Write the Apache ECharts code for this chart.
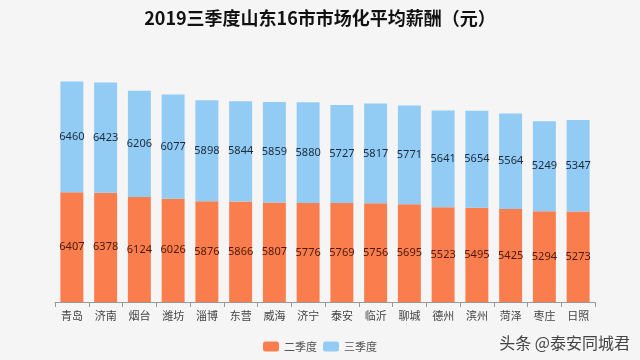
<!DOCTYPE html>
<html><head><meta charset="utf-8">
<script src="https://cdn.jsdelivr.net/npm/echarts@6/dist/echarts.min.js"></script>
<style>html,body{margin:0;padding:0;background:#f5f5f5}#c{width:640px;height:360px}</style>
</head><body><div id="c"></div>
<script>
const categories = ['青岛','济南','烟台','潍坊','淄博','东营','威海','济宁','泰安','临沂','聊城','德州','滨州','菏泽','枣庄','日照'];
const q2 = [6407,6378,6124,6026,5876,5866,5807,5776,5769,5756,5695,5523,5495,5425,5294,5273];
const q3 = [6460,6423,6206,6077,5898,5844,5859,5880,5727,5817,5771,5641,5654,5564,5249,5347];
const seriesNames = ['二季度','三季度'];

const chart = echarts.init(document.getElementById('c'));
chart.setOption({
  backgroundColor: '#f5f5f5',
  animation: false,
  title: {
    text: '2019三季度山东16市市场化平均薪酬（元）',
    left: 'center', top: 4,
    textStyle: {fontFamily: 'Noto Sans CJK SC', fontSize: 18, fontWeight: 'bold', color: '#111'}
  },
  legend: {
    bottom: 3, left: 'center',
    itemWidth: 16, itemHeight: 10, itemGap: 6,
    textStyle: {fontFamily: 'Noto Sans CJK SC', fontSize: 11, color: '#555'},
    data: seriesNames
  },
  grid: {left: 55, right: 45, top: 62, bottom: 58},
  xAxis: {
    type: 'category', data: categories,
    axisLine: {lineStyle: {color: '#999'}},
    axisTick: {show: true, lineStyle: {color: '#999'}},
    axisLabel: {fontFamily: 'Noto Sans CJK SC', fontSize: 11, color: '#444', margin: 8, interval: 0}
  },
  yAxis: {type: 'value', min: 0, max: 14000, show: false, splitLine: {show: false}},
  series: [
    {name: seriesNames[0], type: 'bar', stack: 't', data: q2, barWidth: '68%',
     itemStyle: {color: '#fa7e4d'},
     label: {show: true, position: 'inside', color: '#4a1808', fontSize: 11, fontFamily: 'Noto Sans'}},
    {name: seriesNames[1], type: 'bar', stack: 't', data: q3, barWidth: '68%',
     itemStyle: {color: '#92cbf3'},
     label: {show: true, position: 'inside', color: '#1a2a3a', fontSize: 11, fontFamily: 'Noto Sans'}}
  ],
  graphic: [
    {type: 'text', right: 10, bottom: 9,
     style: {text: '头条 @泰安同城君', fill: '#444', font: '16px "Noto Sans CJK SC"'}}
  ]
});
</script></body></html>
